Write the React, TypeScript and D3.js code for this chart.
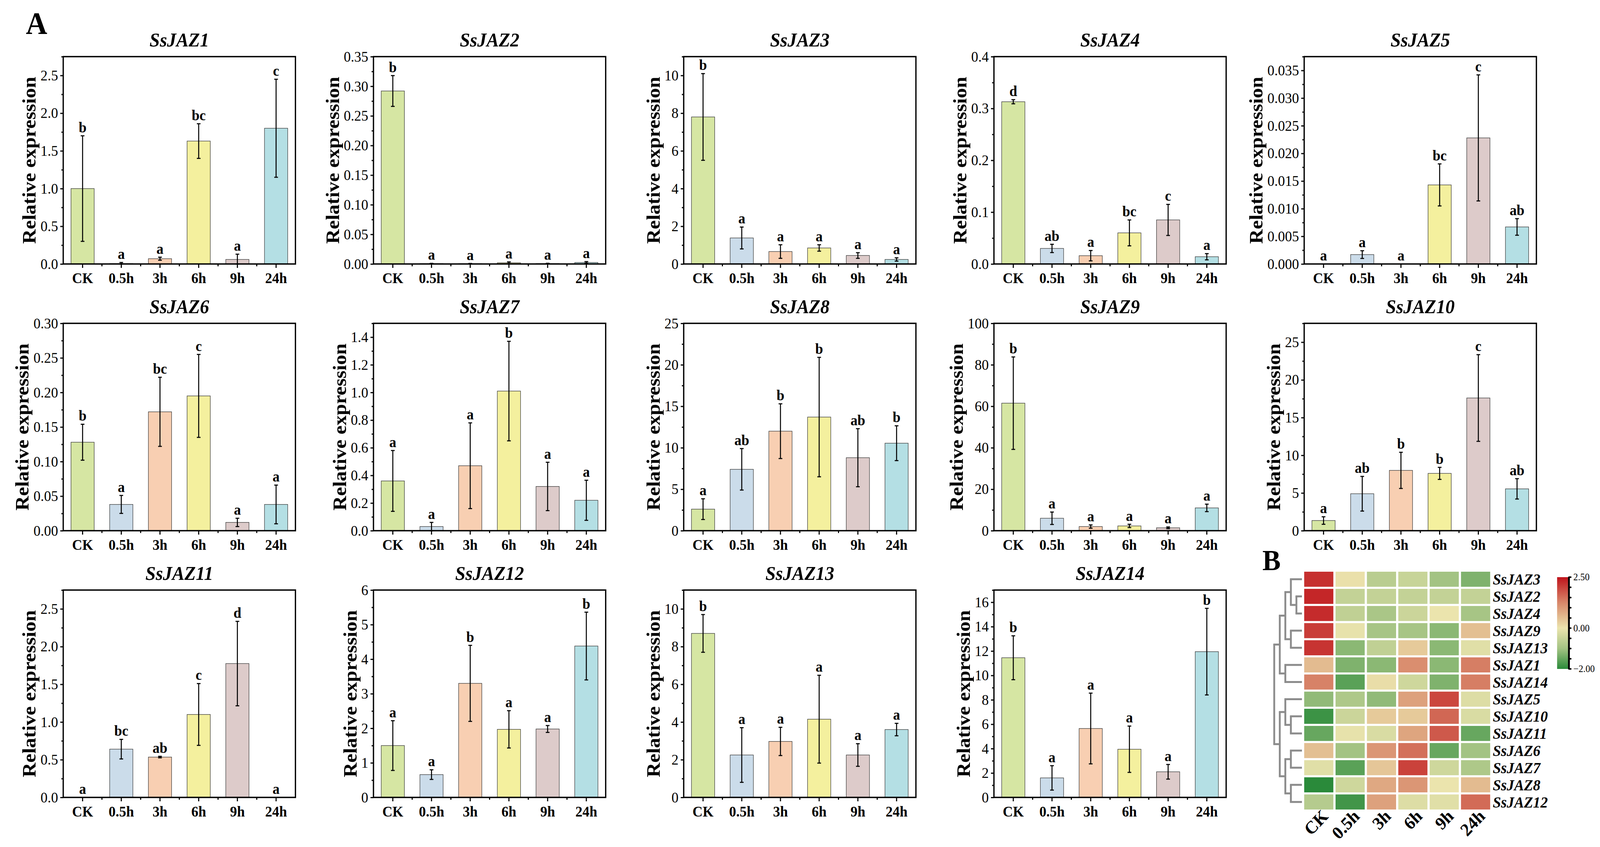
import { useEffect, useRef } from "react";
import * as d3 from "d3";

const W = 4327;
const H = 2169;
const FONT = "'Liberation Serif', 'Times New Roman', serif";

// catégories et couleurs des barres
const timePoints = ["CK", "0.5h", "3h", "6h", "9h", "24h"];
const barColors = ["#d6e6a3", "#cbdcea", "#f8cfb2", "#f4f09e", "#ddcbca", "#b4dfe4"];

const genes = [
  "SsJAZ1", "SsJAZ2", "SsJAZ3", "SsJAZ4", "SsJAZ5",
  "SsJAZ6", "SsJAZ7", "SsJAZ8", "SsJAZ9", "SsJAZ10",
  "SsJAZ11", "SsJAZ12", "SsJAZ13", "SsJAZ14",
];

const means = [
  [1.0, 0.005, 0.07, 1.63, 0.06, 1.8],
  [0.292, 0.0006, 0.0005, 0.002, 0.0007, 0.0025],
  [7.8, 1.38, 0.66, 0.85, 0.45, 0.24],
  [0.313, 0.03, 0.016, 0.06, 0.085, 0.014],
  [0, 0.0017, 0, 0.0143, 0.0228, 0.0067],
  [0.128, 0.038, 0.172, 0.195, 0.012, 0.038],
  [0.36, 0.03, 0.47, 1.01, 0.32, 0.22],
  [2.6, 7.4, 12.0, 13.7, 8.8, 10.55],
  [61.5, 6.0, 2.0, 2.3, 1.4, 11.0],
  [1.35, 4.9, 8.0, 7.6, 17.6, 5.55],
  [0, 0.64, 0.535, 1.1, 1.775, 0],
  [1.5, 0.66, 3.3, 1.97, 1.98, 4.38],
  [8.7, 2.25, 2.97, 4.15, 2.25, 3.6],
  [11.45, 1.6, 5.65, 3.95, 2.1, 11.95],
];

const errors = [
  [0.7, 0.015, 0.02, 0.23, 0.07, 0.65],
  [0.026, 0.0005, 0.0004, 0.0015, 0.0005, 0.0015],
  [2.3, 0.58, 0.36, 0.17, 0.15, 0.09],
  [0.004, 0.008, 0.01, 0.025, 0.03, 0.006],
  [0, 0.0007, 0, 0.0038, 0.0114, 0.0015],
  [0.026, 0.013, 0.05, 0.06, 0.006, 0.028],
  [0.22, 0.03, 0.31, 0.36, 0.175, 0.145],
  [1.25, 2.5, 3.3, 7.2, 3.5, 2.1],
  [22.3, 3.0, 0.8, 0.8, 0.4, 1.8],
  [0.5, 2.3, 2.4, 0.8, 5.75, 1.35],
  [0, 0.13, 0.01, 0.41, 0.56, 0],
  [0.72, 0.14, 1.1, 0.54, 0.1, 0.98],
  [1.0, 1.45, 0.75, 2.33, 0.6, 0.33],
  [1.8, 1.0, 2.9, 1.9, 0.6, 3.55],
];

const letters = [
  ["b", "a", "a", "bc", "a", "c"],
  ["b", "a", "a", "a", "a", "a"],
  ["b", "a", "a", "a", "a", "a"],
  ["d", "ab", "a", "bc", "c", "a"],
  ["a", "a", "a", "bc", "c", "ab"],
  ["b", "a", "bc", "c", "a", "a"],
  ["a", "a", "a", "b", "a", "a"],
  ["a", "ab", "b", "b", "ab", "b"],
  ["b", "a", "a", "a", "a", "a"],
  ["a", "ab", "b", "b", "c", "ab"],
  ["a", "bc", "ab", "c", "d", "a"],
  ["a", "a", "b", "a", "a", "b"],
  ["b", "a", "a", "a", "a", "a"],
  ["b", "a", "a", "a", "a", "b"],
];

// axes y : max, pas des graduations, décimales
const yMax = [2.75, 0.35, 11, 0.4, 0.0375, 0.3, 1.5, 25, 100, 27.5, 2.75, 6, 11, 17];
const yStep = [0.5, 0.05, 2, 0.1, 0.005, 0.05, 0.2, 5, 20, 5, 0.5, 1, 2, 2];
const yDigits = [1, 2, 0, 1, 3, 2, 1, 0, 0, 0, 1, 0, 0, 0];

// heatmap (B)
const heatGenes = [
  "SsJAZ3", "SsJAZ2", "SsJAZ4", "SsJAZ9", "SsJAZ13", "SsJAZ1", "SsJAZ14",
  "SsJAZ5", "SsJAZ10", "SsJAZ11", "SsJAZ6", "SsJAZ7", "SsJAZ8", "SsJAZ12",
];
const heatValues = [
  [2.2, 0.05, -0.7, -0.5, -1.0, -1.3],
  [2.3, -0.55, -0.55, -0.55, -0.55, -0.55],
  [2.25, -0.6, -0.9, -0.45, 0.0, -0.95],
  [2.05, -0.05, -0.95, -0.95, -1.2, 0.5],
  [2.15, -1.2, -0.6, 0.35, -1.2, -0.15],
  [0.55, -1.3, -1.2, 1.15, -1.2, 1.35],
  [1.3, -1.6, 0.1, -0.4, -1.3, 1.35],
  [-1.15, -0.85, -1.15, 0.9, 1.95, -0.2],
  [-1.85, -0.45, 0.35, 0.35, 1.6, -0.25],
  [-1.5, -0.05, -0.25, 0.85, 1.75, -1.5],
  [0.5, -1.0, 1.05, 1.5, -1.5, -1.0],
  [-0.15, -1.6, 0.4, 2.0, -0.4, -0.85],
  [-2.0, -0.4, 0.8, 1.05, 0.0, 0.55],
  [-0.75, -1.8, 0.9, -0.2, -0.15, 1.55],
];
const colorStops = [-2, -1, 0, 1.25, 2.5];
const colorRange = ["#2a8a3a", "#a3c383", "#ebe4ad", "#d8876a", "#c0141c"];
const colorTicks = [2.5, 2, 1.5, 1, 0.5, 0, -0.5, -1, -1.5, -2];

const dendrogram = {
  h: 5,
  children: [
    {
      h: 4,
      children: [
        {
          h: 3,
          children: [
            { h: 2, children: [{ name: "SsJAZ3" }, { h: 1, children: [{ name: "SsJAZ2" }, { name: "SsJAZ4" }] }] },
            { h: 2, children: [{ name: "SsJAZ9" }, { name: "SsJAZ13" }] },
          ],
        },
        { h: 3, children: [{ name: "SsJAZ1" }, { name: "SsJAZ14" }] },
      ],
    },
    {
      h: 4,
      children: [
        { h: 3, children: [{ name: "SsJAZ5" }, { h: 2, children: [{ name: "SsJAZ10" }, { name: "SsJAZ11" }] }] },
        {
          h: 3,
          children: [
            { h: 2, children: [{ name: "SsJAZ6" }, { name: "SsJAZ7" }] },
            { h: 2, children: [{ name: "SsJAZ8" }, { name: "SsJAZ12" }] },
          ],
        },
      ],
    },
  ],
};

// largeur approx. d'un libellé numérique (Times)
function labelWidth(s: string, size: number) {
  let em = 0;
  for (const ch of s) em += ch === "." ? 0.25 : 0.5;
  return em * size;
}

function drawPanel(svg: any, i: number) {
  const col = i % 5;
  const row = Math.floor(i / 5);
  const left = 171 + col * 839;
  const top = 145 + row * 683;
  const pw = 628;
  const ph = 531;
  const bottom = top + ph;

  const x = d3
    .scaleBand<string>()
    .domain(timePoints)
    .range([left, left + pw])
    .paddingInner(0.4)
    .paddingOuter(0.2);
  const y = d3.scaleLinear().domain([0, yMax[i]]).range([bottom, top]);

  const n = Math.floor(yMax[i] / yStep[i] + 1e-9);
  const major = d3.range(0, n + 1).map((k) => k * yStep[i]);
  const minor = d3
    .range(0, n + 1)
    .map((k) => (k + 0.5) * yStep[i])
    .filter((v) => v <= yMax[i] + 1e-9);
  const fmt = d3.format(`.${yDigits[i]}f`);

  const g = svg.append("g");

  // barres
  g.selectAll(".bar")
    .data(timePoints)
    .enter()
    .append("rect")
    .attr("x", (d: string) => x(d)!)
    .attr("width", x.bandwidth())
    .attr("y", (_: string, k: number) => y(means[i][k]))
    .attr("height", (_: string, k: number) => bottom - y(means[i][k]))
    .style("fill", (_: string, k: number) => barColors[k])
    .style("stroke", "#3a3a3a")
    .style("stroke-width", 1.3);

  // barres d'erreur
  const cap = 5;
  timePoints.forEach((t, k) => {
    const cx = x(t)! + x.bandwidth() / 2;
    const hi = y(means[i][k] + errors[i][k]);
    const lo = y(Math.max(0, means[i][k] - errors[i][k]));
    if (errors[i][k] > 0) {
      g.append("line").attr("x1", cx).attr("x2", cx).attr("y1", hi).attr("y2", lo)
        .style("stroke", "#000").style("stroke-width", 2.7);
      [hi, lo].forEach((yy) =>
        g.append("line").attr("x1", cx - cap).attr("x2", cx + cap).attr("y1", yy).attr("y2", yy)
          .style("stroke", "#000").style("stroke-width", 2.7)
      );
    }
    g.append("text")
      .attr("x", cx)
      .attr("y", hi - 9)
      .attr("text-anchor", "middle")
      .style("font-family", FONT)
      .style("font-weight", "bold")
      .style("font-size", "38px")
      .text(letters[i][k]);
  });

  // cadre
  g.append("rect")
    .attr("x", left).attr("y", top).attr("width", pw).attr("height", ph)
    .style("fill", "none").style("stroke", "#000").style("stroke-width", 3.5);

  // axe y
  const yAxis = g.append("g").attr("transform", `translate(${left},0)`)
    .call(d3.axisLeft(y).tickValues(major).tickSize(8).tickPadding(6).tickFormat((d: any) => fmt(d)));
  yAxis.select(".domain").remove();
  yAxis.selectAll("line").style("stroke-width", 3);
  yAxis.selectAll("text").style("font-family", FONT).style("font-size", "38px").style("fill", "#000");
  const yMinor = g.append("g").attr("transform", `translate(${left},0)`)
    .call(d3.axisLeft(y).tickValues(minor).tickSize(5).tickFormat(() => ""));
  yMinor.select(".domain").remove();
  yMinor.selectAll("line").style("stroke-width", 3);

  // axe x
  const xAxis = g.append("g").attr("transform", `translate(0,${bottom})`)
    .call(d3.axisBottom(x).tickSize(10).tickPadding(12));
  xAxis.select(".domain").remove();
  xAxis.selectAll("line").style("stroke-width", 3);
  xAxis.selectAll("text").style("font-family", FONT).style("font-weight", "bold")
    .style("font-size", "38px").style("fill", "#000");
  const step = x.step();
  d3.range(1, timePoints.length).forEach((k) => {
    const bx = left + k * step;
    g.append("line").attr("x1", bx).attr("x2", bx).attr("y1", bottom).attr("y2", bottom + 6)
      .style("stroke", "#000").style("stroke-width", 3);
  });

  // titre de l'axe y
  const maxLab = d3.max(major, (v) => labelWidth(fmt(v), 38))!;
  const bx = left - 14 - maxLab - 13;
  const cy = (top + bottom) / 2;
  g.append("text")
    .attr("x", bx).attr("y", cy)
    .attr("transform", `rotate(-90,${bx},${cy})`)
    .attr("text-anchor", "middle")
    .style("font-family", FONT).style("font-weight", "bold").style("font-size", "52px")
    .text("Relative expression");

  // titre du gène
  g.append("text")
    .attr("x", left + pw / 2).attr("y", top - 26)
    .attr("text-anchor", "middle")
    .style("font-family", FONT).style("font-weight", "bold").style("font-style", "italic")
    .style("font-size", "50px")
    .text(genes[i]);
}

function drawHeatmap(svg: any) {
  const g = svg.append("g");
  const x = d3.scaleBand<string>().domain(timePoints).range([3527, 4030]).paddingInner(0.07);
  const y = d3.scaleBand<string>().domain(heatGenes).range([1464, 2073]).paddingInner(0.12);
  const color = d3.scaleLinear<string>().domain(colorStops).range(colorRange).clamp(true);

  heatGenes.forEach((gene, r) => {
    timePoints.forEach((t, c) => {
      g.append("rect")
        .attr("x", x(t)!).attr("y", y(gene)!)
        .attr("width", x.bandwidth()).attr("height", y.bandwidth())
        .style("fill", color(heatValues[r][c]));
    });
    g.append("text")
      .attr("x", 4037).attr("y", y(gene)! + y.bandwidth() / 2 + 14)
      .style("font-family", FONT).style("font-weight", "bold").style("font-style", "italic")
      .style("font-size", "40px")
      .text(gene);
  });

  // libellés des colonnes
  timePoints.forEach((t) => {
    const ax = x(t)! + x.bandwidth() / 2 + 28;
    const ay = 2073 + 20;
    g.append("text")
      .attr("x", ax).attr("y", ay)
      .attr("transform", `rotate(-45,${ax},${ay})`)
      .attr("text-anchor", "end")
      .style("font-family", FONT).style("font-weight", "bold").style("font-size", "46px")
      .text(t);
  });

  // dendrogramme
  const root = d3.hierarchy<any>(dendrogram);
  const hx = d3.scaleLinear().domain([0, 5]).range([3521, 3446]);
  root.eachAfter((node: any) => {
    if (!node.children) {
      node.py = y(node.data.name)! + y.bandwidth() / 2;
      node.px = hx(0);
    } else {
      node.py = d3.mean(node.children, (c: any) => c.py);
      node.px = hx(node.data.h);
    }
  });
  const lineStyle = (sel: any) =>
    sel.style("stroke", "#8c8c8c").style("stroke-width", 5).style("fill", "none");
  root.each((node: any) => {
    if (!node.children) return;
    const ys = node.children.map((c: any) => c.py);
    lineStyle(g.append("line").attr("x1", node.px).attr("x2", node.px)
      .attr("y1", d3.min(ys)).attr("y2", d3.max(ys)));
    node.children.forEach((c: any) =>
      lineStyle(g.append("line").attr("x1", node.px - 2.5).attr("x2", c.px)
        .attr("y1", c.py).attr("y2", c.py))
    );
  });

  // barre de couleur
  const cb = d3.scaleLinear().domain([-2, 2.5]).range([1713, 1478]);
  const grad = svg.append("defs").append("linearGradient")
    .attr("id", "cbar").attr("x1", 0).attr("y1", 1).attr("x2", 0).attr("y2", 0);
  colorStops.forEach((v, k) =>
    grad.append("stop").attr("offset", (v + 2) / 4.5).attr("stop-color", colorRange[k])
  );
  g.append("rect").attr("x", 4211).attr("y", 1478).attr("width", 30).attr("height", 235)
    .style("fill", "url(#cbar)");
  g.append("line").attr("x1", 4243).attr("x2", 4243).attr("y1", 1478).attr("y2", 1713)
    .style("stroke", "#000").style("stroke-width", 5);
  colorTicks.forEach((v) =>
    g.append("line").attr("x1", 4243).attr("x2", 4248).attr("y1", cb(v)).attr("y2", cb(v))
      .style("stroke", "#000").style("stroke-width", 4).style("stroke-linecap", "round")
  );
  [2.5, 0, -2].forEach((v) =>
    g.append("text").attr("x", 4255).attr("y", cb(v) + 8)
      .style("font-family", FONT).style("font-size", "25px")
      .text(v < 0 ? "\u2212" + d3.format(".2f")(-v) : d3.format(".2f")(v))
  );
}

export default function App() {
  const svgRef = useRef<SVGSVGElement>(null);

  useEffect(() => {
    if (!svgRef.current) return;
    document.body.style.margin = "0";
    document.body.style.overflow = "hidden";
    const svg = d3.select(svgRef.current);
    svg.selectAll("*").remove();

    svg.append("rect").attr("width", W).attr("height", H).style("fill", "#fff");

    genes.forEach((_, i) => drawPanel(svg, i));
    drawHeatmap(svg);

    svg.append("text").attr("x", 70).attr("y", 87)
      .style("font-family", FONT).style("font-weight", "bold").style("font-size", "80px")
      .text("A");
    svg.append("text").attr("x", 3414).attr("y", 1460)
      .style("font-family", FONT).style("font-weight", "bold").style("font-size", "74px")
      .text("B");
  }, []);

  return (
    <div style={{ position: "fixed", left: 0, top: 0, width: "100vw", height: "100vh", background: "#fff", overflow: "hidden" }}>
      <svg
        ref={svgRef}
        viewBox={`0 0 ${W} ${H}`}
        preserveAspectRatio="none"
        style={{ display: "block", width: "100%", height: "100%" }}
      />
    </div>
  );
}
